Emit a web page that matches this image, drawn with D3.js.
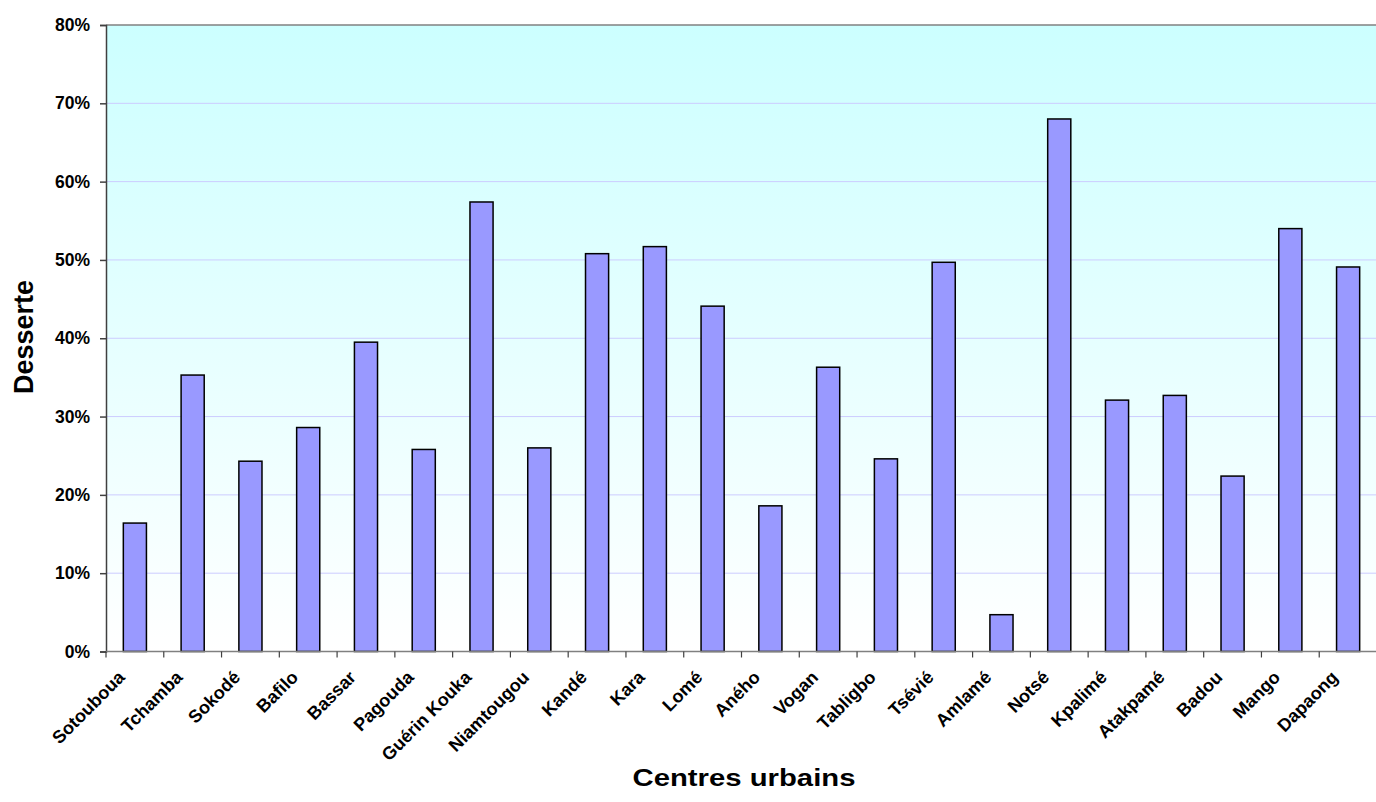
<!DOCTYPE html>
<html>
<head>
<meta charset="utf-8">
<script src="https://cdn.jsdelivr.net/npm/d3@7/dist/d3.min.js"></script>
<style>
  html, body { margin: 0; padding: 0; background: #fff; }
  svg { display: block; font-family: "Liberation Sans", Arial, sans-serif; }
</style>
</head>
<body>
<svg id="chart" width="1376" height="802"></svg>
<script>
// Urban centres and their service coverage (fraction)
const centres = ["Sotouboua", "Tchamba", "Sokodé", "Bafilo", "Bassar", "Pagouda",
  "Guérin Kouka", "Niamtougou", "Kandé", "Kara", "Lomé", "Aného", "Vogan",
  "Tabligbo", "Tsévié", "Amlamé", "Notsé", "Kpalimé", "Atakpamé", "Badou",
  "Mango", "Dapaong"];
const desserte = [0.164, 0.353, 0.243, 0.286, 0.395, 0.258, 0.574, 0.260, 0.508,
  0.517, 0.441, 0.186, 0.363, 0.246, 0.497, 0.047, 0.680, 0.321, 0.327, 0.224,
  0.540, 0.491];
const yTicks = [0, 0.1, 0.2, 0.3, 0.4, 0.5, 0.6, 0.7, 0.8];

const svg = d3.select("#chart");
const plot = { left: 106, right: 1377, top: 25, bottom: 651.5 };

const x = d3.scaleBand().domain(centres).range([plot.left, plot.right])
  .paddingInner(0.6).paddingOuter(0.3);
const xEdges = d3.scaleLinear().domain([0, centres.length]).range([plot.left, plot.right]);
const y = d3.scaleLinear().domain([0, 0.8]).range([plot.bottom, plot.top]);

// Background gradient
const defs = svg.append("defs");
const grad = defs.append("linearGradient").attr("id", "bg")
  .attr("x1", 0).attr("y1", 0).attr("x2", 0).attr("y2", 1);
grad.append("stop").attr("offset", "0%").attr("stop-color", "#ccffff");
grad.append("stop").attr("offset", "100%").attr("stop-color", "#ffffff");

svg.append("rect")
  .attr("x", plot.left).attr("y", plot.top)
  .attr("width", plot.right - plot.left).attr("height", plot.bottom - plot.top)
  .attr("fill", "url(#bg)");

// Horizontal gridlines
svg.append("g").selectAll("line")
  .data(yTicks.filter(d => d > 0 && d < 0.8))
  .join("line")
  .attr("x1", plot.left).attr("x2", plot.right)
  .attr("y1", d => y(d)).attr("y2", d => y(d))
  .attr("stroke", "#ccccff").attr("stroke-width", 1);

// Top border of plot
svg.append("line")
  .attr("x1", plot.left).attr("x2", plot.right)
  .attr("y1", plot.top).attr("y2", plot.top)
  .attr("stroke", "#808080").attr("stroke-width", 1.5);

// Bars
svg.append("g").selectAll("rect")
  .data(centres.map((c, i) => ({ c, v: desserte[i] })))
  .join("rect")
  .attr("x", d => x(d.c))
  .attr("y", d => y(d.v))
  .attr("width", x.bandwidth())
  .attr("height", d => y(0) - y(d.v))
  .attr("fill", "#9999ff")
  .attr("stroke", "#000")
  .attr("stroke-width", 1.5);

// Y axis
const yAxis = d3.axisLeft(y).tickValues(yTicks).tickFormat(d3.format(".0%"))
  .tickSize(6).tickPadding(10);
const gy = svg.append("g").attr("transform", `translate(${plot.left},0)`).call(yAxis);
gy.select(".domain").attr("stroke", "#404040").attr("stroke-width", 1.5);
gy.selectAll(".tick line").attr("stroke", "#404040").attr("stroke-width", 1.5);
gy.selectAll(".tick text").attr("font-size", 17.5).attr("font-weight", "bold")
  .attr("fill", "#000").attr("font-family", "Liberation Sans, Arial, sans-serif");

// X axis: baseline and ticks at category boundaries
svg.append("line")
  .attr("x1", plot.left).attr("x2", plot.right)
  .attr("y1", plot.bottom).attr("y2", plot.bottom)
  .attr("stroke", "#808080").attr("stroke-width", 1.5);
svg.append("g").selectAll("line")
  .data(d3.range(0, centres.length + 1))
  .join("line")
  .attr("x1", d => xEdges(d)).attr("x2", d => xEdges(d))
  .attr("y1", plot.bottom).attr("y2", plot.bottom + 6)
  .attr("stroke", "#404040").attr("stroke-width", 1.2);

// Rotated category labels
svg.append("g").selectAll("text")
  .data(centres)
  .join("text")
  .attr("transform", d => `translate(${x(d) + x.bandwidth() / 2 - 9},${plot.bottom + 27}) rotate(-45)`)
  .attr("text-anchor", "end")
  .attr("font-size", 18).attr("font-weight", "bold")
  .text(d => d);

// Axis titles
svg.append("text")
  .attr("transform", `translate(33,337) rotate(-90)`)
  .attr("text-anchor", "middle")
  .attr("font-size", 27).attr("font-weight", "bold")
  .text("Desserte");

svg.append("text")
  .attr("transform", "translate(744,786) scale(1.22,1)")
  .attr("text-anchor", "middle")
  .attr("font-size", 24).attr("font-weight", "bold")
  .text("Centres urbains");
</script>
</body>
</html>
